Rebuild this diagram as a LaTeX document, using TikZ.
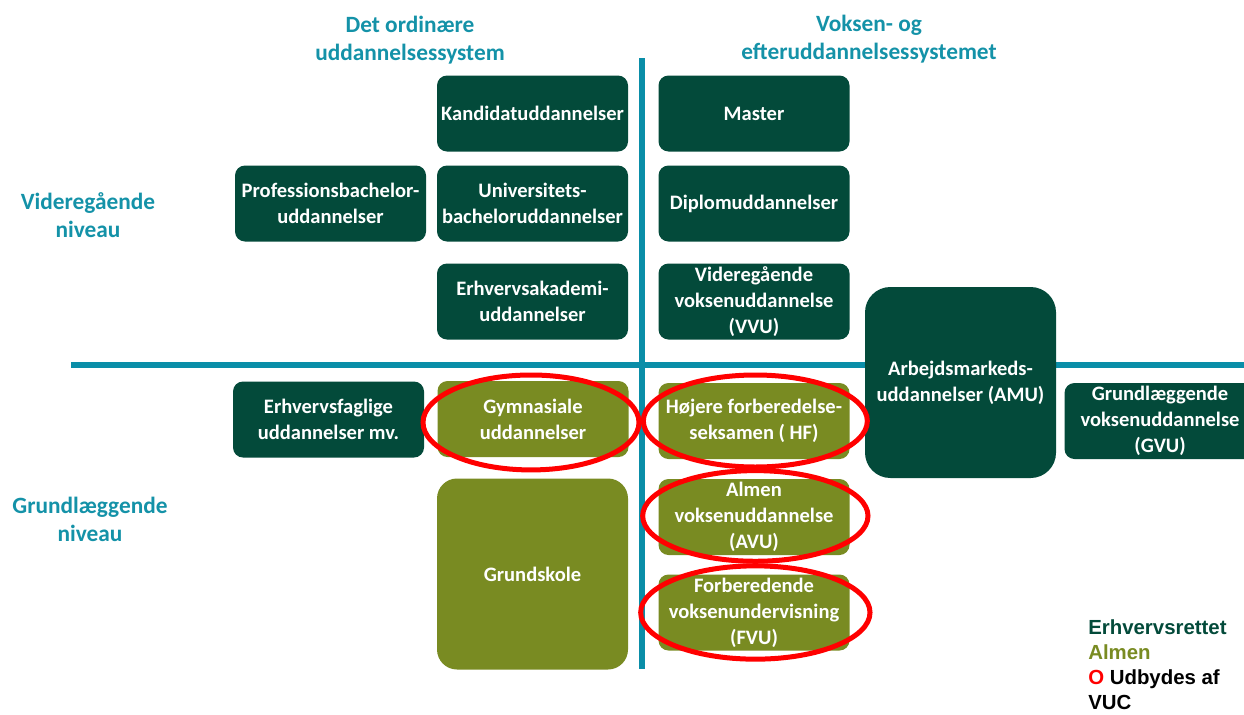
\documentclass[tikz,border=0pt]{standalone}
\usepackage{fontspec}
\setmainfont{Carlito}
\newfontfamily\legendfont{Liberation Sans}
\usepackage{xcolor}
\usepackage{tikz}

\definecolor{ergreen}{RGB}{3,74,58}
\definecolor{almen}{RGB}{121,139,34}
\definecolor{headblue}{RGB}{20,146,168}
\definecolor{lineblue}{RGB}{10,142,168}

\begin{document}
\begin{tikzpicture}[
    x=0.75pt, y=-0.75pt,
    ebox/.style={rectangle, fill=ergreen, text=white, font=\fontsize{15.4}{19.5}\selectfont\bfseries, align=center,
        rounded corners=7.5pt, minimum width=143.25pt, minimum height=57pt, inner sep=0pt},
    abox/.style={ebox, fill=almen},
    bigbox/.style={minimum height=143.25pt, rounded corners=17pt},
    header/.style={text=headblue, font=\fontsize{17.5}{21}\selectfont\bfseries, align=center},
    divider/.style={draw=lineblue, line width=4.5pt},
    vucring/.style={draw=red, line width=3.75pt}
]
\path[use as bounding box, clip] (0,0) rectangle (1244,714);

% Headings
\node[header] (ordinary) at (410,40) {Det ordinære\\uddannelsessystem};
\node[header] (adult) at (869,39) {Voksen- og\\efteruddannelsessystemet};
\node[header] (higher) at (88,215) {Videregående\\niveau};
\node[header] (basic) at (90,519) {Grundlæggende\\niveau};

% Dividing lines
\coordinate (vtop) at (642,58);
\coordinate (vbot) at (642,669);
\coordinate (hleft) at (71,364.5);
\coordinate (hright) at (1244,364.5);
\draw[divider] (vtop) -- (vbot);
\draw[divider] (hleft) -- (hright);

% Videregaaende niveau
\node[ebox] (kand) at (532.5,113.5) {Kandidatuddannelser};
\node[ebox] (master) at (754,113.5) {Master};
\node[ebox] (prof) at (330.5,203.5) {Professionsbachelor-\\uddannelser};
\node[ebox] (univ) at (532.5,203.5) {Universitets-\\bacheloruddannelser};
\node[ebox] (diplom) at (754,203.5) {Diplomuddannelser};
\node[ebox] (erhvaka) at (532.5,301.5) {Erhvervsakademi-\\uddannelser};
\node[ebox] (vvu) at (754,301.5) {Videregående\\voksenuddannelse\\(VVU)};

% Across both levels
\node[ebox, bigbox, rounded corners=19pt] (amu) at (960.5,382.5) {Arbejdsmarkeds-\\uddannelser (AMU)};
\node[ebox] (gvu) at (1160,421) {Grundlæggende\\voksenuddannelse\\(GVU)};

% Grundlaeggende niveau
\node[ebox] (erhvfag) at (328.5,419.5) {Erhvervsfaglige\\uddannelser mv.};
\node[abox] (gym) at (533,419) {Gymnasiale\\uddannelser};
\node[abox] (hf) at (754,421) {Højere forberedelse-\\seksamen ( HF)};
\node[abox, bigbox, rounded corners=15pt] (grund) at (532.5,574) {Grundskole};
\node[abox] (avu) at (754,517) {Almen\\voksenuddannelse\\(AVU)};
\node[abox] (fvu) at (754,612.5) {Forberedende\\voksenundervisning\\(FVU)};

% Offered by VUC
\draw[vucring] ([xshift=-1.5pt, yshift=-2.6pt]gym.center) ellipse [x radius=81pt, y radius=35.6pt];
\draw[vucring] ([xshift=1pt]hf.center) ellipse [x radius=84pt, y radius=34.5pt];
\draw[vucring] ([xshift=1pt, yshift=0.8pt]avu.center) ellipse [x radius=84.5pt, y radius=34pt];
\draw[vucring] ([xshift=1pt]fvu.center) ellipse [x radius=86pt, y radius=35pt];

% Legend
\node[anchor=north west, align=left, inner sep=0pt, font=\legendfont\fontsize{15.3}{18.75}\selectfont\bfseries] (legend) at (1088,619)
    {\textcolor{ergreen}{Erhvervsrettet}\\\textcolor{almen}{Almen}\\\textcolor{red}{O} Udbydes af\\VUC};

\end{tikzpicture}
\end{document}
